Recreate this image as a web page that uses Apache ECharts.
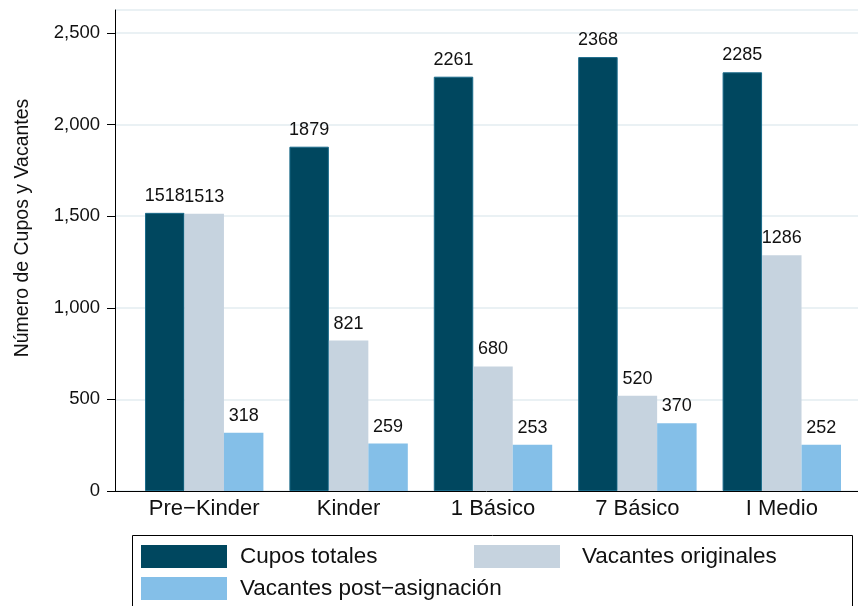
<!DOCTYPE html>
<html>
<head>
<meta charset="utf-8">
<script src="https://cdn.jsdelivr.net/npm/echarts@6/dist/echarts.min.js"></script>
<style>
  html, body { margin: 0; padding: 0; background: #fff; }
  #main { width: 858px; height: 606px; }
</style>
</head>
<body>
<div id="main"></div>
<script>
// datos
const niveles = ['Pre−Kinder', 'Kinder', '1 Básico', '7 Básico', 'I Medio'];
const cuposTotales = [1518, 1879, 2261, 2368, 2285];
const vacantesOriginales = [1513, 821, 680, 520, 1286];
const vacantesPost = [318, 259, 253, 370, 252];
const seriesNames = ['Cupos totales', 'Vacantes originales', 'Vacantes post−asignación'];
const colores = ['#00475f', '#c6d3df', '#84bfe8'];

const FONT = 'Liberation Sans, Arial, sans-serif';
const Y_MAX = 2625;

const chart = echarts.init(document.getElementById('main'), null, { renderer: 'canvas' });

function barSerie(i, data) {
  return {
    name: seriesNames[i],
    type: 'bar',
    xAxisIndex: 0,
    yAxisIndex: 0,
    data: data,
    barGap: 0,
    barCategoryGap: '18%',
    itemStyle: {
      color: colores[i],
      borderColor: i === 0 ? '#1b6b8a' : colores[i],
      borderWidth: i === 0 ? 1 : 0
    },
    label: {
      show: true,
      position: 'top',
      distance: 8,
      color: '#111',
      fontFamily: FONT,
      fontSize: 18
    }
  };
}

// una leyenda por item, para alinear como en el original
function leyenda(i, left, top, gap) {
  return {
    data: [seriesNames[i]],
    left: left,
    top: top,
    padding: 0,
    itemWidth: 86,
    itemHeight: 23,
    selectedMode: false,
    icon: 'rect',
    itemStyle: { borderWidth: 0 },
    textStyle: {
      fontFamily: FONT,
      fontSize: 22.5,
      color: '#111',
      padding: [0, 0, 0, gap]
    }
  };
}

let option = {
  backgroundColor: '#fff',
  animation: false,
  color: colores,
  grid: [
    // barras
    { left: 132, right: 4, top: 10, bottom: 115 },
    // ejes / lineas de grilla
    { left: 115, right: 0, top: 10, bottom: 115 }
  ],
  xAxis: [
    {
      gridIndex: 0,
      type: 'category',
      data: niveles,
      axisLine: { show: false },
      axisTick: { show: false },
      axisLabel: {
        color: '#111',
        fontFamily: FONT,
        fontSize: 22,
        margin: 7
      }
    },
    {
      gridIndex: 1,
      type: 'value',
      min: 0,
      max: 1,
      axisLine: { show: true, onZero: false, lineStyle: { color: '#000', width: 1 } },
      axisTick: { show: false },
      axisLabel: { show: false },
      splitLine: { show: false }
    }
  ],
  yAxis: [
    {
      gridIndex: 0,
      type: 'value',
      min: 0,
      max: Y_MAX,
      show: false,
      splitLine: { show: false }
    },
    {
      gridIndex: 1,
      type: 'value',
      min: 0,
      max: Y_MAX,
      interval: 500,
      name: 'Número de Cupos y Vacantes',
      nameLocation: 'middle',
      nameGap: 82,
      nameTextStyle: {
        color: '#111',
        fontFamily: FONT,
        fontSize: 19.5,
        padding: [0, 0, 0, 45]
      },
      axisLine: { show: true, lineStyle: { color: '#000', width: 1 } },
      axisTick: { show: true, length: 8, lineStyle: { color: '#000' } },
      axisLabel: {
        color: '#111',
        fontFamily: FONT,
        fontSize: 18.5,
        margin: 15,
        showMaxLabel: false,
        formatter: (v) => v.toLocaleString('en-US')
      },
      splitLine: { show: true, lineStyle: { color: '#eaf1f4', width: 2 } }
    }
  ],
  legend: [
    leyenda(0, 141, 545, 8),
    leyenda(1, 474, 545, 17),
    leyenda(2, 141, 577, 8)
  ],
  graphic: [
    {
      type: 'rect',
      shape: { x: 132.5, y: 535.5, width: 720, height: 100 },
      style: { fill: 'none', stroke: '#000', lineWidth: 1 },
      z: 0
    }
  ],
  series: [
    barSerie(0, cuposTotales),
    barSerie(1, vacantesOriginales),
    barSerie(2, vacantesPost)
  ]
};

chart.setOption(option);
</script>
</body>
</html>
